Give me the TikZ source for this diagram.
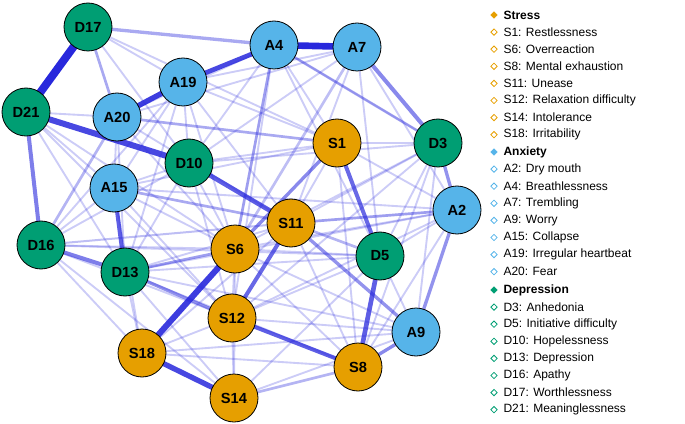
\documentclass[tikz,border=0pt]{standalone}
\usepackage{fontspec}
\setmainfont{Liberation Sans}
\usetikzlibrary{shapes.geometric,backgrounds}
\definecolor{stresscol}{RGB}{230,159,0}
\definecolor{anxcol}{RGB}{86,180,233}
\definecolor{depcol}{RGB}{0,158,115}
\definecolor{edgecol}{RGB}{40,40,220}
\tikzset{every picture/.style={line width=0.75pt}}
\tikzset{
  symnode/.style={circle,draw=black,line width=0.6pt,minimum size=36,inner sep=0pt,font=\fontsize{11}{12}\selectfont\bfseries},
  stressnode/.style={symnode,fill=stresscol},
  anxnode/.style={symnode,fill=anxcol},
  depnode/.style={symnode,fill=depcol},
  edge/.style={draw=edgecol,line cap=round},
  faint/.style={edge,draw opacity=0.24,line width=1.4},
  legmark/.style={diamond,draw,line width=0.6pt,inner sep=0pt,minimum size=5},
  legtext/.style={anchor=west,inner sep=0pt,font=\fontsize{9}{10}\selectfont},
}
\begin{document}
\begin{tikzpicture}[x=0.75pt,y=0.75pt,yscale=-1,xscale=1]
\useasboundingbox (0,0) rectangle (685,424);
% nodes
\foreach \n/\x/\y in {S1/337/143,S6/235/249,S8/358/367,S11/291/223,S12/232/318,S14/234/398,S18/142/353}
  \node[stressnode] (\n) at (\x,\y) {\n};
\foreach \n/\x/\y in {A2/457/210,A4/274/45,A7/357/47,A9/416/332,A15/114/188,A19/183/82,A20/117/117}
  \node[anxnode] (\n) at (\x,\y) {\n};
\foreach \n/\x/\y in {D3/438/143,D5/380/256,D10/189/163,D13/125/272,D16/41/245,D17/88/27,D21/26/112}
  \node[depnode] (\n) at (\x,\y) {\n};
\begin{scope}[on background layer]
% faint edges
\foreach \a/\b in {D17/A19,D17/D10,A4/A20,A4/D10,A4/S1,A4/D5,A7/A19,A7/A20,A7/D10,A7/S11,A7/D5,A7/A2,
  A19/D10,A19/S1,A19/S11,A19/S6,A19/D13,A19/A15,A20/A15,A20/S6,A20/D13,A20/S11,D21/A20,D21/A15,D21/D13,D21/S6,
  D10/A15,D10/S6,D10/S12,D10/D13,D10/D16,A15/D16,A15/S6,A15/S12,A15/S18,D16/S6,D16/S12,D16/S18,D16/S14,D16/A19,
  D13/S18,D13/S14,D13/S11,S18/S12,S18/S8,S18/A9,S18/S11,S14/S12,S14/A9,S14/D5,S14/S6,S12/D5,S12/A9,S12/A2,S12/S6,
  S6/D5,S6/A2,S6/S8,S6/A9,S11/S8,S11/D3,S11/S1,S1/D3,S1/A2,S1/S8,S1/A15,D3/D5,D3/S6,D3/S12,D3/A9,D3/S8,D3/D10,
  D5/A2,D5/A9,A2/S8,A2/D13,A9/D13,S8/D13,A4/D3,A4/S12,S1/D10,D5/D13,D21/S12,D17/S1,A15/A2,D16/D5}
  \draw[faint] (\a) -- (\b);
% stronger edges
\foreach \a/\b/\w/\o in {D17/D21/6/1,A4/A7/5/1,D21/D10/4.5/0.85,A20/A19/4/0.9,A19/A4/3.5/0.85,
  S6/S18/4.5/0.9,S18/S14/4/0.85,D10/S11/3.5/0.75,S11/S12/3/0.7,S1/D5/3/0.7,D5/S8/3.5/0.75,
  S12/S8/3/0.75,A15/D13/3/0.75,D21/D16/3/0.6,D16/D13/3/0.6,A7/D3/3/0.55,D3/A2/2.5/0.5,
  A2/A9/2.5/0.5,A9/S8/2.5/0.55,S1/S6/2.5/0.55,S11/A9/2.5/0.5,S6/D13/2/0.45,D13/S12/2.5/0.5,
  S11/A2/2/0.45,A4/S6/2/0.45,D17/A4/2.5/0.4,D17/A20/2/0.4,A20/S1/2/0.4,A15/S11/2/0.4,
  S14/S8/2/0.35,D16/A20/2/0.35,A4/D3/2/0.35,S11/D5/2/0.35,A7/S6/2/0.3,D16/S11/1.5/0.3}
  \draw[edge,line width=\w,draw opacity=\o] (\a) -- (\b);
\end{scope}
% legend
\node[legmark,draw=stresscol,fill=stresscol] (hS) at (494,15) {};
\node[legtext,font=\fontsize{9}{10}\selectfont\bfseries] at (503,15) {Stress};
\foreach \t [count=\i] in {S1: Restlessness,S6: Overreaction,S8: Mental exhaustion,S11: Unease,S12: Relaxation difficulty,S14: Intolerance,S18: Irritability}{
  \node[legmark,draw=stresscol] at (494,15+17.1*\i) {};
  \node[legtext] at (503,15+17.1*\i) {\t};}
\node[legmark,draw=anxcol,fill=anxcol] (hA) at (494,152) {};
\node[legtext,font=\fontsize{9}{10}\selectfont\bfseries] at (503,152) {Anxiety};
\foreach \t [count=\i] in {A2: Dry mouth,A4: Breathlessness,A7: Trembling,A9: Worry,A15: Collapse,A19: Irregular heartbeat,A20: Fear}{
  \node[legmark,draw=anxcol] at (494,152+17.1*\i) {};
  \node[legtext] at (503,152+17.1*\i) {\t};}
\node[legmark,draw=depcol,fill=depcol] (hD) at (494,290) {};
\node[legtext,font=\fontsize{9}{10}\selectfont\bfseries] at (503,290) {Depression};
\foreach \t [count=\i] in {D3: Anhedonia,D5: Initiative difficulty,D10: Hopelessness,D13: Depression,D16: Apathy,D17: Worthlessness,D21: Meaninglessness}{
  \node[legmark,draw=depcol] at (494,290+17.1*\i) {};
  \node[legtext] at (503,290+17.1*\i) {\t};}
\end{tikzpicture}
\end{document}
